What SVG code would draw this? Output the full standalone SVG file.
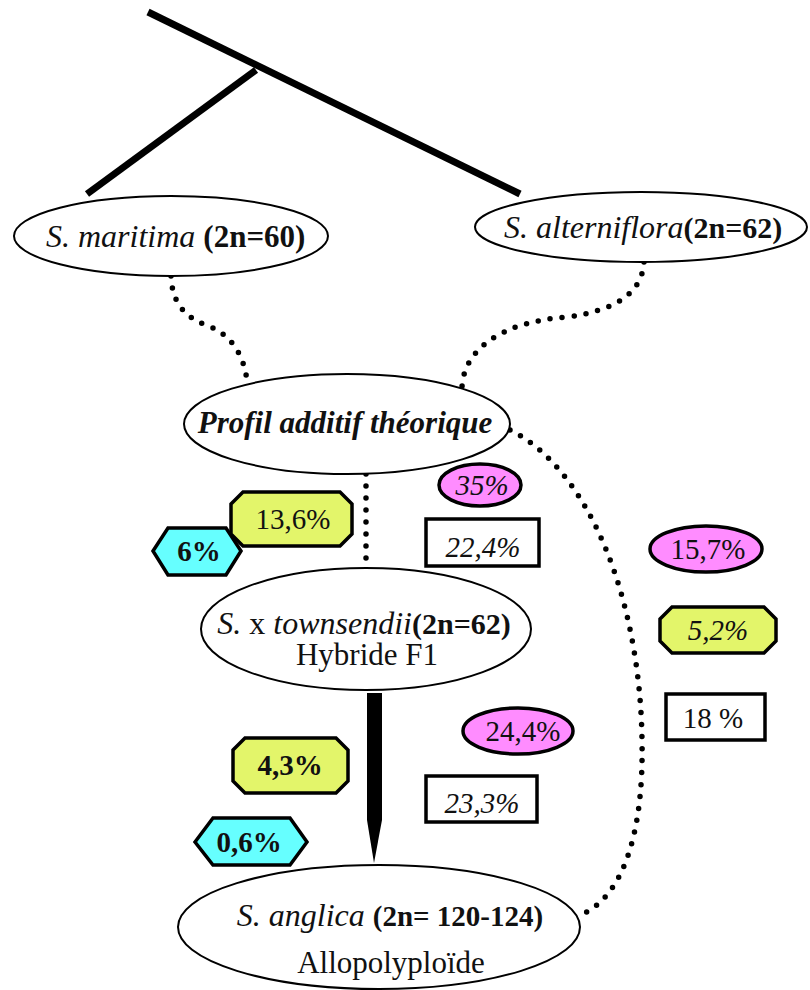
<svg xmlns="http://www.w3.org/2000/svg" width="810" height="990" viewBox="0 0 810 990">
<style>
.node{fill:#fff;stroke:#000;stroke-width:2}
.t{font-family:"Liberation Serif","DejaVu Serif",serif;fill:#111}
.it{font-style:italic}
.b{font-weight:bold}
.dot{fill:none;stroke:#000;stroke-width:5.5;stroke-linecap:round;stroke-dasharray:0 12}
.thick{stroke:#000;stroke-width:7;fill:none}
.pink{fill:#ff8cff;stroke:#000;stroke-width:3.5}
.yel{fill:#e3f56a;stroke:#000;stroke-width:3.5}
.cyan{fill:#66ffff;stroke:#000;stroke-width:3.5}
.box{fill:#fff;stroke:#000;stroke-width:3.5}
.lbl{font-family:"Liberation Serif","DejaVu Serif",serif;font-size:29px;fill:#111;text-anchor:middle}
</style>
<rect width="810" height="990" fill="#fff"/>
<g id="connectors">
<line class="thick" x1="148" y1="12" x2="520" y2="194"/>
<line class="thick" x1="256" y1="70" x2="87" y2="194"/>
<path class="dot" d="M171,276 C172,300 182,316 206,325 C232,334 244,356 247,381"/>
<path class="dot" d="M644,262 C642,295 612,311 567,317 C500,322 464,350 462,387"/>
<path class="dot" d="M366,474 L366,566"/>
<path class="dot" d="M510,430 C590,470 640,600 642,740 C644,840 620,895 585,913"/>
<path d="M367,693 L382,693 L382,820 L374,863 L367,820 Z" fill="#000"/>
</g>
<g id="maritima">
<ellipse class="node" cx="171" cy="236" rx="157" ry="40"/>
<text class="t" x="46" y="247" font-size="32"><tspan class="it">S. maritima</tspan> <tspan class="b" font-size="31">(2n=60)</tspan></text>
</g>
<g id="alterniflora">
<ellipse class="node" cx="641" cy="227" rx="166" ry="35"/>
<text class="t" x="504" y="238" font-size="32"><tspan class="it">S. alterniflora</tspan><tspan class="b" font-size="30">(2n=62)</tspan></text>
</g>
<g id="profil">
<ellipse class="node" cx="347" cy="424" rx="163" ry="50"/>
<text class="t it b" x="345" y="433" font-size="31" text-anchor="middle">Profil additif théorique</text>
</g>
<g id="townsendii">
<ellipse class="node" cx="366" cy="629" rx="165" ry="61"/>
<text class="t" x="364" y="634" font-size="32" text-anchor="middle"><tspan class="it">S.</tspan> x <tspan class="it">townsendii</tspan><tspan class="b" font-size="30">(2n=62)</tspan></text>
<text class="t" x="367" y="665" font-size="31" text-anchor="middle">Hybride F1</text>
</g>
<g id="anglica">
<ellipse class="node" cx="379" cy="927" rx="201" ry="62"/>
<text class="t" x="390" y="926" font-size="32" text-anchor="middle"><tspan class="it">S. anglica</tspan> <tspan class="b" font-size="29">(2n= 120-124)</tspan></text>
<text class="t" x="391" y="973" font-size="31" text-anchor="middle">Allopolyploïde</text>
</g>
<g id="b35">
<ellipse class="pink" cx="480" cy="485" rx="41" ry="21"/>
<text class="lbl it" x="482" y="495">35%</text>
</g>
<g id="b136">
<polygon class="yel" points="243,492 340,492 352,504 352,534 340,546 243,546 231,534 231,504"/>
<text class="lbl" x="293" y="529">13,6%</text>
</g>
<g id="b6">
<polygon class="cyan" points="153,551 168,528 226,528 241,551 226,575 168,575"/>
<text class="lbl b" x="199" y="561">6%</text>
</g>
<g id="b224">
<rect class="box" x="426" y="519" width="113" height="47"/>
<text class="lbl it" x="483" y="557">22,4%</text>
</g>
<g id="b157">
<ellipse class="pink" cx="706" cy="549" rx="56" ry="23"/>
<text class="lbl" x="708" y="559">15,7%</text>
</g>
<g id="b52">
<polygon class="yel" points="672,607 764,607 776,619 776,641 764,653 672,653 660,641 660,619"/>
<text class="lbl it" x="718" y="640">5,2%</text>
</g>
<g id="b18">
<rect class="box" x="666" y="694" width="99" height="46"/>
<text class="lbl" x="713" y="728">18 %</text>
</g>
<g id="b244">
<ellipse class="pink" cx="518" cy="731" rx="55" ry="23"/>
<text class="lbl" x="523" y="741">24,4%</text>
</g>
<g id="b43">
<polygon class="yel" points="245,738 336,738 348,750 348,781 336,793 245,793 233,781 233,750"/>
<text class="lbl b" x="290" y="775">4,3%</text>
</g>
<g id="b233">
<rect class="box" x="426" y="776" width="111" height="46"/>
<text class="lbl it" x="482" y="813">23,3%</text>
</g>
<g id="b06">
<polygon class="cyan" points="195,842 213,818 290,818 307,842 290,865 213,865"/>
<text class="lbl b" x="249" y="852">0,6%</text>
</g>
</svg>
